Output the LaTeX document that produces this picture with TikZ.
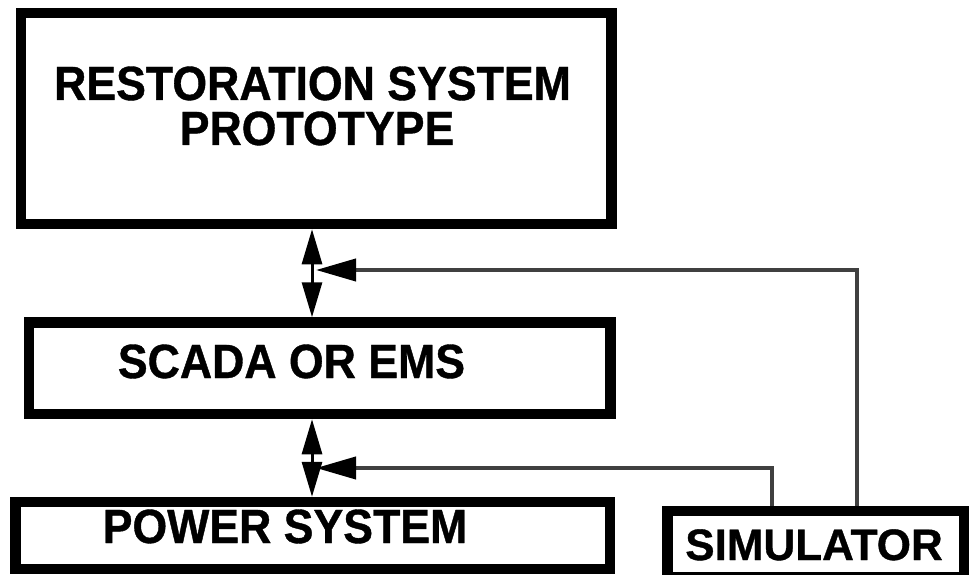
\documentclass[tikz,border=0pt]{standalone}
\usepackage{fontspec}
\setmainfont{Liberation Sans}
\newfontfamily\boxfont[FakeStretch=0.93, BoldFeatures={FakeBold=0.8}]{Liberation Sans}
\newfontfamily\simfont[BoldFeatures={FakeBold=0.8}]{Liberation Sans}
\usetikzlibrary{arrows.meta}
\begin{document}
\begin{tikzpicture}[x=1pt,y=-1pt,
  blk/.style={draw, line width=10.5pt, inner sep=0pt},
  lbl/.style={anchor=base, inner sep=0pt, font=\boxfont\bfseries\fontsize{48}{48}\selectfont},
  simlbl/.style={anchor=base, inner sep=0pt, font=\simfont\bfseries\fontsize{44}{44}\selectfont},
  dbl/.style={line width=3pt, {Triangle[length=35pt,width=20pt]}-{Triangle[length=35pt,width=20pt]}},
  feed/.style={line width=4pt, black!75, -{Triangle[length=40pt,width=22pt,color=black]}}]
\useasboundingbox (0,0) rectangle (969,575);
% boxes
\node[blk, minimum width=590.5pt, minimum height=211pt] (rs) at (316.25,118.5) {};
\node[blk, minimum width=581.5pt, minimum height=91.5pt] (sc) at (319.75,368.25) {};
\node[blk, minimum width=594.5pt, minimum height=67pt] (pw) at (312.75,535.5) {};
\node[blk, minimum width=296.5pt, minimum height=66pt] (sim) at (815.75,544) {};
% labels
\node[lbl] (rst1) at (312.5,100) {RESTORATION SYSTEM};
\node[lbl] (rst2) at (317,145) {PROTOTYPE};
\node[lbl] (sct) at (291.5,378) {SCADA OR EMS};
\node[lbl] (pwt) at (285,543) {POWER SYSTEM};
\node[simlbl] (simt) at (814,560) {SIMULATOR};
% helper coordinates
\coordinate (ax) at (312,0);
\coordinate (f1) at (772,0);
\coordinate (f2) at (857,0);
\coordinate (t1) at (316,270);
\coordinate (t2) at (316,468);
% connectors
\draw[dbl] (rs.south -| ax) -- (sc.north -| ax);
\draw[dbl] (sc.south -| ax) -- (pw.north -| ax);
\draw[feed] (sim.north -| f2) |- (t1);
\draw[feed] (sim.north -| f1) |- (t2);
\end{tikzpicture}
\end{document}
